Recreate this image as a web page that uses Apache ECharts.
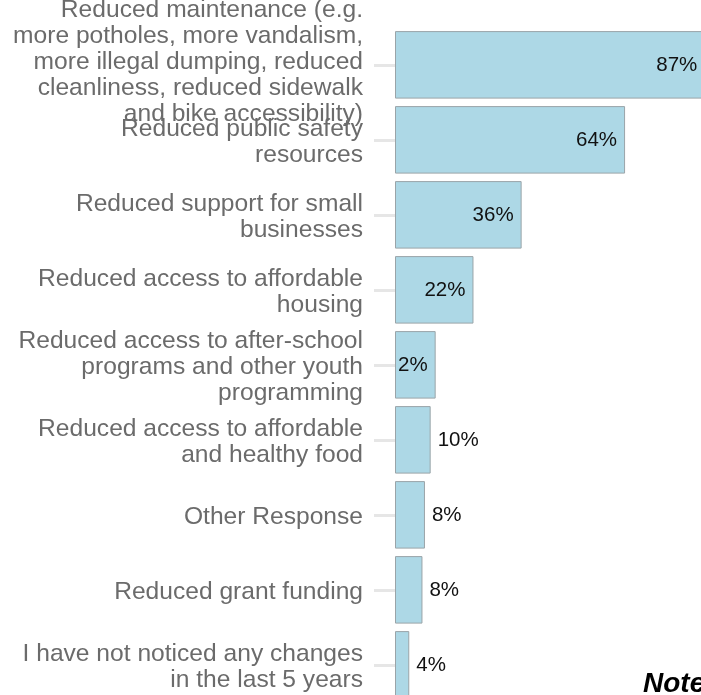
<!DOCTYPE html>
<html>
<head>
<meta charset="utf-8">
<script src="https://cdn.jsdelivr.net/npm/echarts@6/dist/echarts.min.js"></script>
<style>
  html, body { margin: 0; padding: 0; background: #ffffff; }
  #chart { width: 701px; height: 695px; }
</style>
</head>
<body>
<div id="chart"></div>
<script>
const categories = [
  "Reduced maintenance (e.g.\nmore potholes, more vandalism,\nmore illegal dumping, reduced\ncleanliness, reduced sidewalk\nand bike accessibility)",
  "Reduced public safety\nresources",
  "Reduced support for small\nbusinesses",
  "Reduced access to affordable\nhousing",
  "Reduced access to after-school\nprograms and other youth\nprogramming",
  "Reduced access to affordable\nand healthy food",
  "Other Response",
  "Reduced grant funding",
  "I have not noticed any changes\nin the last 5 years"
];
const values = [87, 64.5, 35.5, 22, 11.4, 10, 8.4, 7.7, 4];
const pctLabels = ["87%", "64%", "36%", "22%", "2%", "10%", "8%", "8%", "4%"];
const labelInside = [true, true, true, true, true, false, false, false, false];

const chart = echarts.init(document.getElementById('chart'), null, { renderer: 'canvas' });

const data = values.map((v, i) => ({
  value: v,
  label: labelInside[i]
    ? { position: 'insideRight', distance: 8 }
    : { position: 'right', distance: 7 }
}));

chart.setOption({
  animation: false,
  backgroundColor: '#ffffff',
  grid: {
    left: 395, top: 27.35, width: 356.7, height: 675,
    containLabel: false, outerBoundsMode: 'none'
  },
  xAxis: {
    type: 'value', min: 0, max: 100,
    axisLine: { show: false }, axisTick: { show: false },
    axisLabel: { show: false }, splitLine: { show: false }
  },
  yAxis: {
    type: 'category', inverse: true, data: categories,
    axisLine: { show: false },
    axisTick: { show: true, alignWithLabel: true, length: 21,
      lineStyle: { color: '#e6e6e6', width: 3 } },
    axisLabel: {
      interval: 0, margin: 32, fontSize: 24.6, lineHeight: 26,
      color: '#6b6b6b', fontFamily: 'Liberation Sans', align: 'right',
      formatter: (v, i) => i === 0 ? v + '\n{s| }' : '{d| }\n' + v,
      rich: {
        s: { lineHeight: 5, fontSize: 1 },
        d: { lineHeight: 4, fontSize: 1 }
      }
    },
    splitLine: { show: false }
  },
  series: [{
    type: 'bar',
    data: data,
    barCategoryGap: '10%',
    itemStyle: { color: '#ADD8E6', borderColor: '#9aa4a8', borderWidth: 1 },
    label: {
      show: true,
      formatter: p => pctLabels[p.dataIndex],
      fontSize: 20.5, color: '#111111', fontFamily: 'Liberation Sans'
    }
  }],
  graphic: [{
    type: 'text', x: 643, y: 684,
    style: { text: 'Note:', font: 'italic bold 28px "Liberation Sans"', fill: '#000000', verticalAlign: 'middle' }
  }]
});
</script>
</body>
</html>
